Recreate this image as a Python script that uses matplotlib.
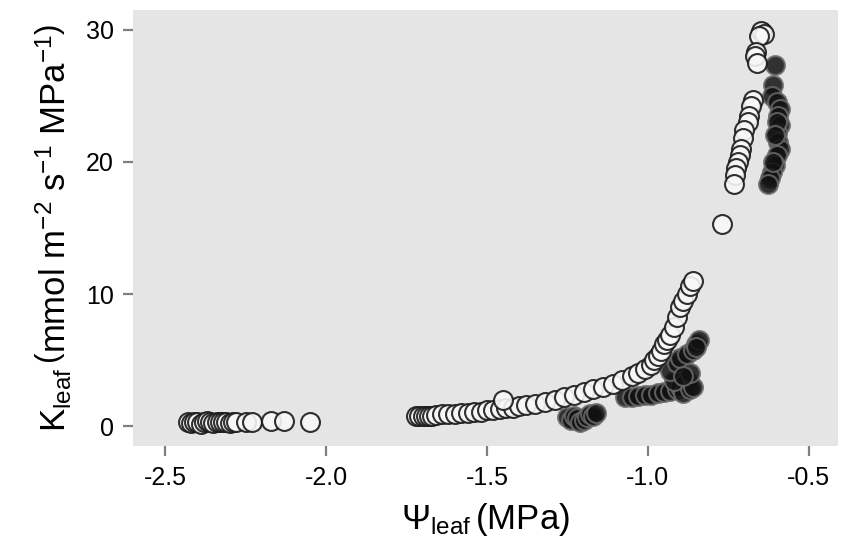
import matplotlib.pyplot as plt
import numpy as np

# valores lidos do gráfico
# grupo claro (pontos brancos)
psi_claro = [-2.43, -2.42, -2.41, -2.40, -2.39, -2.38, -2.37, -2.36, -2.35, -2.34,
             -2.33, -2.32, -2.31, -2.30, -2.29, -2.28, -2.25, -2.23, -2.17, -2.13, -2.05,
             -1.72, -1.71, -1.70, -1.69, -1.68, -1.67, -1.66, -1.64, -1.62, -1.60,
             -1.58, -1.56, -1.54, -1.52, -1.50, -1.48, -1.46, -1.44, -1.42, -1.40,
             -1.38, -1.35, -1.32, -1.29, -1.26, -1.23, -1.20, -1.17, -1.14, -1.11,
             -1.08, -1.05, -1.03, -1.01, -0.99, -0.98, -0.97, -0.96, -0.95, -0.94,
             -0.93, -0.92, -0.91, -0.90, -0.89, -0.88, -0.87, -0.86, -1.45,
             -0.646, -0.650, -0.640, -0.655, -0.665, -0.668, -0.660, -0.674, -0.680,
             -0.685, -0.690, -0.700, -0.705, -0.710, -0.714, -0.720, -0.725, -0.730,
             -0.733, -0.770]
k_claro = [0.3, 0.25, 0.35, 0.3, 0.2, 0.3, 0.4, 0.3, 0.25, 0.3,
           0.35, 0.3, 0.3, 0.25, 0.35, 0.3, 0.35, 0.3, 0.4, 0.4, 0.35,
           0.8, 0.8, 0.75, 0.8, 0.8, 0.8, 0.85, 0.9, 0.9, 0.95,
           1.0, 1.0, 1.05, 1.1, 1.2, 1.2, 1.3, 1.35, 1.4, 1.5,
           1.6, 1.7, 1.8, 2.0, 2.2, 2.4, 2.6, 2.8, 3.0, 3.2,
           3.5, 3.8, 4.0, 4.3, 4.6, 5.0, 5.3, 5.7, 6.2, 6.5,
           6.9, 7.5, 8.3, 9.0, 9.5, 10.0, 10.6, 11.0, 2.0,
           29.8, 29.9, 29.7, 29.5, 28.3, 28.0, 27.5, 24.7, 24.2,
           23.5, 23.0, 22.4, 21.8, 21.0, 20.5, 20.0, 19.5, 19.0,
           18.3, 15.3]

# grupo escuro (pontos pretos)
psi_escuro = [-1.25, -1.24, -1.23, -1.22, -1.21, -1.20, -1.19, -1.18, -1.17, -1.16,
              -1.07, -1.05, -1.03, -1.01, -0.99, -0.97, -0.95, -0.93, -0.91, -0.90,
              -0.89, -0.88, -0.87, -0.86, -0.92, -0.93, -0.91, -0.90, -0.88, -0.86,
              -0.85, -0.84, -0.85, -0.87, -0.89,
              -0.606, -0.612, -0.615, -0.600, -0.590, -0.595, -0.590, -0.600, -0.596,
              -0.590, -0.600, -0.606, -0.615, -0.620, -0.627, -0.610, -0.600, -0.605]
k_escuro = [0.7, 0.5, 0.8, 0.6, 0.3, 0.5, 0.7, 0.9, 0.8, 1.0,
            2.2, 2.2, 2.3, 2.4, 2.4, 2.5, 2.6, 2.7, 2.8, 3.0,
            2.5, 3.5, 2.8, 3.0, 3.4, 4.2, 4.8, 5.2, 5.5, 5.8,
            6.2, 6.5, 6.0, 4.0, 3.8,
            27.3, 25.8, 25.0, 24.5, 24.0, 23.5, 22.8, 22.2, 21.5,
            21.0, 20.5, 19.8, 19.2, 18.8, 18.3, 20.0, 23.0, 22.0]

plt.rcParams['font.family'] = ['Liberation Sans', 'DejaVu Sans']
plt.rcParams['mathtext.fontset'] = 'custom'
plt.rcParams['mathtext.rm'] = 'Liberation Sans'
plt.rcParams['mathtext.it'] = 'Liberation Sans'

fig = plt.figure(figsize=(8.42, 5.48), dpi=100)
ax = fig.add_axes([0.158, 0.186, 0.837, 0.796])
ax.set_facecolor('#e5e5e5')

ax.scatter(psi_escuro, k_escuro, s=185, c='#111111', edgecolors='#6a6a6a',
           linewidths=1.5, alpha=0.85, zorder=2)
ax.scatter(psi_claro, k_claro, s=185, c='#f8f8f8', edgecolors='#1a1a1a',
           linewidths=1.5, alpha=0.9, zorder=3)

ax.set_xlim(-2.6, -0.41)
ax.set_ylim(-1.5, 31.5)
ax.set_xticks([-2.5, -2.0, -1.5, -1.0, -0.5])
ax.set_xticklabels(['-2.5', '-2.0', '-1.5', '-1.0', '-0.5'])
ax.set_yticks([0, 10, 20, 30])

for lado in ax.spines.values():
    lado.set_visible(False)
ax.tick_params(direction='out', length=7, width=1.6, color='#7f7f7f',
               labelsize=18, labelcolor='black', pad=7)

ax.set_xlabel(r'$\Psi_{\mathregular{leaf}}\,(\mathregular{MPa})$', fontsize=25, labelpad=8)
ax.set_ylabel(r'$\mathregular{K_{leaf}}\,\left(\mathregular{mmol\ m^{-2}\ s^{-1}\ MPa^{-1}}\right)$',
              fontsize=25, labelpad=8)

fig.savefig('out.png', dpi=100)
